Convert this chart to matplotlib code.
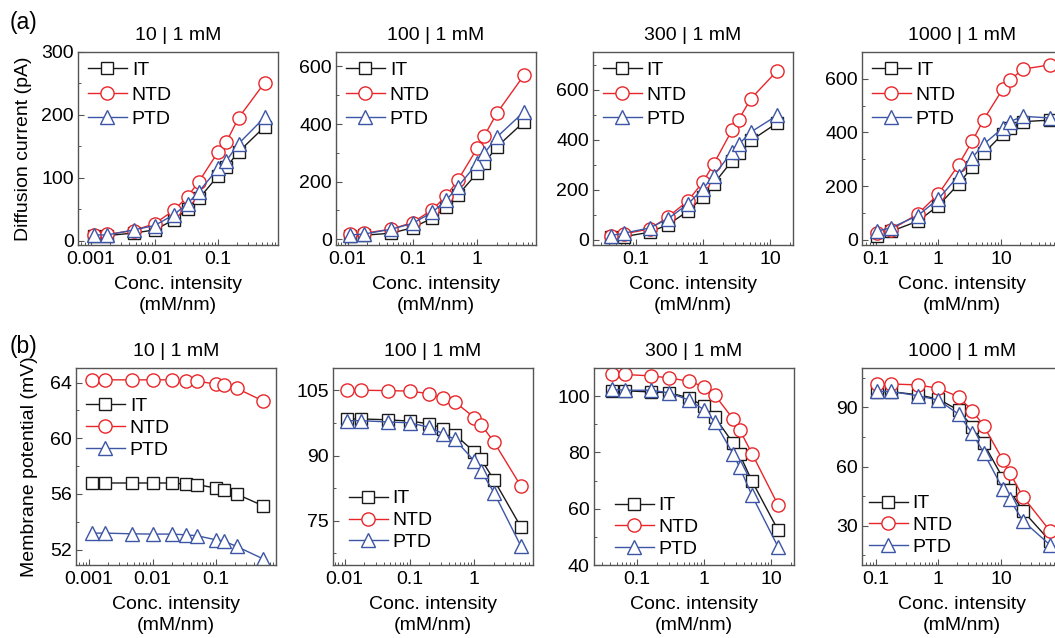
import matplotlib
matplotlib.use("Agg")
import matplotlib.pyplot as plt
from matplotlib.ticker import FuncFormatter, AutoMinorLocator, LogLocator

plt.rcParams['font.family'] = ['Liberation Sans', 'DejaVu Sans']
plt.rcParams['font.size'] = 14

# titles (high | low concentration)
titles = ['10 | 1 mM', '100 | 1 mM', '300 | 1 mM', '1000 | 1 mM']
labels = ['IT', 'NTD', 'PTD']

# concentration intensity (mM/nm) for each panel column
x_10 = [0.0011, 0.0018, 0.0047, 0.01, 0.02, 0.033, 0.05, 0.1, 0.135, 0.21, 0.54]
x_100 = [0.011, 0.018, 0.047, 0.1, 0.2, 0.33, 0.5, 1.0, 1.27, 2.0, 5.2]
x_300 = [0.042, 0.066, 0.16, 0.3, 0.6, 1.0, 1.45, 2.7, 3.4, 5.2, 12.8]
x_1000 = [0.105, 0.175, 0.47, 1.0, 2.1, 3.5, 5.3, 10.8, 13.8, 22.5, 61]

# (a) diffusion current (pA)
it_cur_10 = [7, 8, 12, 17, 33, 50, 67, 103, 117, 141, 181]
ntd_cur_10 = [9, 10, 16, 27, 48, 70, 94, 141, 157, 195, 251]
ptd_cur_10 = [9, 9, 17, 24, 41, 59, 78, 115, 127, 154, 196]

it_cur_100 = [12, 14, 21, 40, 73, 113, 153, 231, 263, 321, 407]
ntd_cur_100 = [18, 21, 35, 58, 102, 150, 205, 317, 358, 438, 569]
ptd_cur_100 = [15, 18, 35, 55, 93, 136, 182, 265, 298, 355, 442]

it_cur_300 = [13, 13, 31, 61, 115, 171, 224, 315, 347, 397, 467]
ntd_cur_300 = [17, 24, 44, 91, 157, 231, 304, 437, 480, 564, 675]
ptd_cur_300 = [17, 27, 48, 84, 144, 204, 257, 351, 381, 431, 497]

it_cur_1000 = [15, 31, 69, 127, 207, 272, 322, 395, 417, 440, 446]
ntd_cur_1000 = [26, 37, 96, 170, 279, 368, 448, 563, 594, 636, 652]
ptd_cur_1000 = [32, 44, 90, 152, 238, 306, 356, 417, 440, 460, 454]

# (b) membrane potential (mV)
it_pot_10 = [56.79, 56.79, 56.79, 56.79, 56.79, 56.71, 56.67, 56.43, 56.26, 56.0, 55.17]
ntd_pot_10 = [64.2, 64.2, 64.2, 64.2, 64.2, 64.1, 64.1, 63.9, 63.8, 63.6, 62.7]
ptd_pot_10 = [53.19, 53.19, 53.14, 53.12, 53.12, 53.07, 53.0, 52.71, 52.6, 52.24, 51.36]

it_pot_100 = [98.4, 98.4, 98.2, 97.9, 97.3, 96.2, 94.8, 90.8, 89.1, 84.4, 73.6]
ntd_pot_100 = [105, 105, 104.9, 104.8, 104.2, 103.2, 102.3, 98.7, 97.1, 93.1, 83.0]
ptd_pot_100 = [98.0, 98.0, 97.7, 97.5, 96.5, 95.0, 93.7, 88.7, 86.4, 81.5, 69.2]

it_pot_300 = [101.9, 101.9, 101.5, 101.2, 99.4, 96.4, 92.6, 83.4, 79.4, 69.8, 52.3]
ntd_pot_300 = [107.7, 107.7, 107.2, 106.5, 105.3, 103.3, 100.4, 92.0, 88.1, 79.6, 61.2]
ptd_pot_300 = [102.4, 102.1, 102.1, 101.2, 98.6, 95.2, 90.9, 79.6, 74.8, 64.7, 46.3]

it_pot_1000 = [98.0, 98.0, 96.4, 94.2, 88.6, 80.2, 71.7, 54.1, 48.0, 37.5, 22.2]
ntd_pot_1000 = [101.9, 101.9, 101.4, 99.7, 95.4, 88.3, 80.7, 63.2, 56.9, 44.7, 27.3]
ptd_pot_1000 = [98.1, 98.1, 95.9, 93.7, 86.6, 76.8, 67.1, 48.5, 43.4, 32.4, 20.2]

xs = [x_10, x_100, x_300, x_1000]
cur = [(it_cur_10, ntd_cur_10, ptd_cur_10), (it_cur_100, ntd_cur_100, ptd_cur_100),
       (it_cur_300, ntd_cur_300, ptd_cur_300), (it_cur_1000, ntd_cur_1000, ptd_cur_1000)]
pot = [(it_pot_10, ntd_pot_10, ptd_pot_10), (it_pot_100, ntd_pot_100, ptd_pot_100),
       (it_pot_300, ntd_pot_300, ptd_pot_300), (it_pot_1000, ntd_pot_1000, ptd_pot_1000)]

# axis ranges / ticks
xlims = [(0.00062, 0.88), (0.0066, 8.0), (0.023, 22), (0.06, 95)]
cur_ylims = [(-7, 300), (-20, 650), (-20, 750), (-20, 700)]
cur_yticks = [[0, 100, 200, 300], [0, 200, 400, 600], [0, 200, 400, 600], [0, 200, 400, 600]]
pot_ylims = [(50.9, 65.05), (64.85, 110.1), (40, 110), (10, 110)]
pot_yticks = [[52, 56, 60, 64], [75, 90, 105], [40, 60, 80, 100], [30, 60, 90]]

colors = ['#1a1a1a', '#e8262a', '#3c55a5']
markers = ['s', 'o', '^']
msizes = [9, 9.5, 10.5]
spine_col = '#555555'

fig = plt.figure(figsize=(10.55, 6.38), dpi=100)

W, H = 1055, 638
lefts_a = [78, 336, 593, 862]
lefts_b = [76, 333, 594, 862]
# legend anchors (loc, x, y) in axes coords
leg_a = [('upper left', 0.05, 0.95)] * 4
leg_b = [('upper left', 0.05, 0.85), ('lower left', 0.08, 0.07),
         ('lower left', 0.105, 0.035), ('lower left', 0.035, 0.045)]
ylab_x = [-0.23, -0.19]


def style_axis(ax, xlim, ylim, yticks):
    ax.set_xscale('log')
    ax.set_xlim(*xlim)
    ax.set_ylim(*ylim)
    ax.set_yticks(yticks)
    ax.yaxis.set_minor_locator(AutoMinorLocator(2))
    ax.xaxis.set_major_locator(LogLocator(base=10))
    ax.xaxis.set_minor_locator(LogLocator(base=10, subs=range(2, 10)))
    ax.xaxis.set_major_formatter(FuncFormatter(lambda v, p: '%g' % v))
    ax.tick_params(which='major', direction='in', length=4, width=0.8,
                   color=spine_col, labelsize=14, pad=4)
    ax.tick_params(which='minor', direction='in', length=2, width=0.7, color=spine_col)
    ax.tick_params(axis='y', pad=3)
    for s in ax.spines.values():
        s.set_color(spine_col)
        s.set_linewidth(1.0)
    ax.set_xlabel('Conc. intensity\n(mM/nm)', fontsize=14, linespacing=1.3, labelpad=6)


for row, (data, ylims, yticks, lefts, top, bot, legs) in enumerate([
        (cur, cur_ylims, cur_yticks, lefts_a, 52, 245, leg_a),
        (pot, pot_ylims, pot_yticks, lefts_b, 368, 565, leg_b)]):
    for col in range(4):
        ax = fig.add_axes([lefts[col] / W, 1 - bot / H, 200 / W, (bot - top) / H])
        for k in range(3):
            ax.plot(xs[col], data[col][k], color=colors[k], marker=markers[k],
                    markersize=msizes[k], markerfacecolor='white',
                    markeredgecolor=colors[k], markeredgewidth=1.0,
                    linewidth=1.0, label=labels[k])
        style_axis(ax, xlims[col], ylims[col], yticks[col])
        ax.set_title(titles[col], fontsize=14, pad=9)
        loc, lx, ly = legs[col]
        ax.legend(loc=loc, bbox_to_anchor=(lx, ly), frameon=False, fontsize=14,
                  handlelength=2.0, handletextpad=0.25,
                  labelspacing=0.35 if row == 0 else 0.22,
                  borderpad=0, borderaxespad=0)
        if col == 0:
            ax.set_ylabel('Diffusion current (pA)' if row == 0 else 'Membrane potential (mV)',
                          fontsize=14)
            ax.yaxis.set_label_coords(ylab_x[row], 0.5)

fig.text(10 / W, 1 - 22 / H, '(a)', fontsize=16.5, va='center', ha='left')
fig.text(10 / W, 1 - 346 / H, '(b)', fontsize=16.5, va='center', ha='left')

fig.savefig('out.png', dpi=100)
